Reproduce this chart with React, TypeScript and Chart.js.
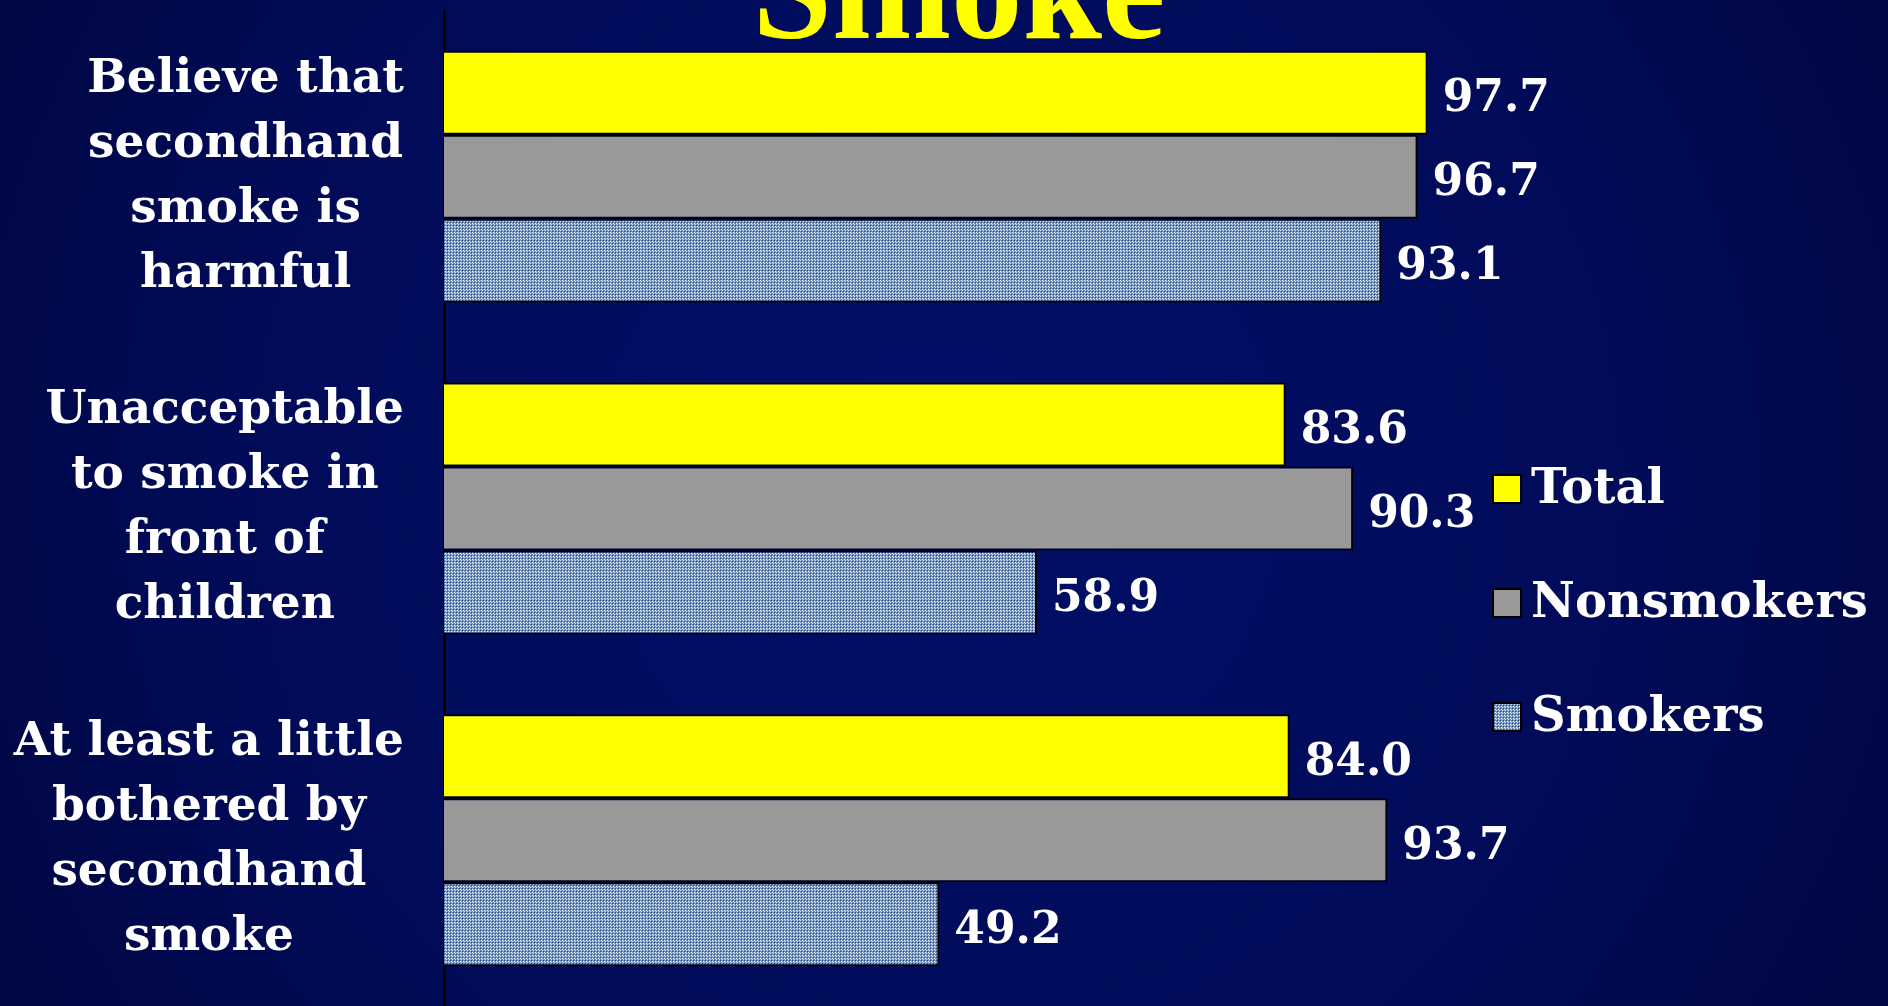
import React, { useEffect, useRef } from "react";
import { Chart, registerables } from "chart.js";

Chart.register(...registerables);

const categories: string[][] = [
  ["Believe that", "secondhand", "smoke is", "harmful"],
  ["Unacceptable", "to smoke in", "front of", "children"],
  ["At least a little", "bothered by", "secondhand", "smoke"],
];
const seriesNames = ["Total", "Nonsmokers", "Smokers"];
const totalValues = [97.7, 83.6, 84.0];
const nonsmokerValues = [96.7, 90.3, 93.7];
const smokerValues = [93.1, 58.9, 49.2];
const titleText = "Smoke";

const W = 1888;
const H = 1006;
const SERIF = '"DejaVu Serif", "Liberation Serif", serif';

function makePattern(): CanvasPattern | string {
  const c = document.createElement("canvas");
  c.width = 3;
  c.height = 3;
  const g = c.getContext("2d");
  if (!g) return "#8aa3c8";
  g.fillStyle = "#7393c2";
  g.fillRect(0, 0, 3, 3);
  g.fillStyle = "#24447e";
  g.fillRect(0, 0, 1, 1);
  g.fillStyle = "#ffffff";
  g.fillRect(1, 1, 1, 1);
  g.fillStyle = "#d4e0f0";
  g.fillRect(2, 2, 1, 1);
  const p = g.createPattern(c, "repeat");
  return p || "#8aa3c8";
}

export default function App() {
  const ref = useRef<HTMLCanvasElement | null>(null);

  useEffect(() => {
    const canvas = ref.current;
    if (!canvas) return;
    const pattern = makePattern();
    const fills: any[] = ["#ffff00", "#999999", pattern];

    const bgPlugin = {
      id: "bg",
      beforeDraw(chart: any) {
        const ctx = chart.ctx;
        ctx.save();
        const g = ctx.createRadialGradient(940, 480, 0, 940, 480, 1150);
        g.addColorStop(0, "#020f68");
        g.addColorStop(0.6, "#010b58");
        g.addColorStop(1, "#00063f");
        ctx.fillStyle = g;
        ctx.fillRect(0, 0, chart.width, chart.height);
        ctx.restore();
      },
    };

    const decoPlugin = {
      id: "deco",
      afterDatasetsDraw(chart: any) {
        const ctx = chart.ctx;
        const yScale = chart.scales.y;
        const area = chart.chartArea;
        ctx.save();
        // value labels
        ctx.font = `bold 44px ${SERIF}`;
        ctx.fillStyle = "#ffffff";
        ctx.textAlign = "left";
        ctx.textBaseline = "middle";
        chart.data.datasets.forEach((ds: any, di: number) => {
          const meta = chart.getDatasetMeta(di);
          meta.data.forEach((bar: any, i: number) => {
            const v = ds.data[i] as number;
            ctx.fillText(v.toFixed(1), bar.x + 15, bar.y + 7);
          });
        });
        // category labels (centered lines, block right-aligned)
        ctx.font = `bold 47px ${SERIF}`;
        ctx.textAlign = "center";
        categories.forEach((lines, i) => {
          const yc = yScale.getPixelForValue(i);
          const maxW = Math.max(...lines.map((l) => ctx.measureText(l).width));
          const cx = area.left - 40 - maxW / 2;
          lines.forEach((l, j) => {
            ctx.fillText(l, cx, yc + (j - (lines.length - 1) / 2) * 65);
          });
        });
        // legend
        ctx.font = `bold 48px ${SERIF}`;
        const lx = area.right + 13;
        const centers = [489, 603, 717];
        seriesNames.forEach((name, i) => {
          const cy = centers[i];
          ctx.fillStyle = fills[i];
          ctx.fillRect(lx, cy - 14, 28, 28);
          ctx.lineWidth = 2;
          ctx.strokeStyle = "#000000";
          ctx.strokeRect(lx, cy - 14, 28, 28);
          ctx.fillStyle = "#ffffff";
          ctx.textAlign = "left";
          ctx.fillText(name, lx + 38, cy + 2);
        });
        // title (partially off the top)
        ctx.font = `bold 143px "Liberation Serif", serif`;
        ctx.fillStyle = "#ffff00";
        ctx.textAlign = "center";
        ctx.textBaseline = "alphabetic";
        ctx.fillText(titleText, 959, 38);
        ctx.restore();
      },
    };

    const chart = new Chart(canvas, {
      type: "bar",
      data: {
        labels: categories.map((c) => c.join(" ")),
        datasets: [
          { label: seriesNames[0], data: totalValues, backgroundColor: fills[0] },
          { label: seriesNames[1], data: nonsmokerValues, backgroundColor: fills[1] },
          { label: seriesNames[2], data: smokerValues, backgroundColor: fills[2] },
        ],
      },
      options: {
        indexAxis: "y",
        responsive: false,
        maintainAspectRatio: false,
        animation: false,
        datasets: {
          bar: {
            barPercentage: 1,
            categoryPercentage: 0.76,
            borderColor: "#000000",
            borderWidth: 2,
          },
        },
        layout: { padding: { left: 436, right: 408, top: 11, bottom: 0 } },
        plugins: {
          legend: { display: false },
          title: { display: false },
          tooltip: { enabled: false },
        },
        scales: {
          x: { display: false, min: 0, max: 102.9 },
          y: {
            display: true,
            ticks: { display: false },
            grid: { display: false },
            border: { display: true, color: "#000000", width: 3 },
          },
        },
      },
      plugins: [bgPlugin, decoPlugin],
    } as any);

    return () => chart.destroy();
  }, []);

  return (
    <div style={{ position: "fixed", left: 0, top: 0, width: W, height: H }}>
      <canvas ref={ref} width={W} height={H} style={{ display: "block", width: W, height: H }} />
    </div>
  );
}
